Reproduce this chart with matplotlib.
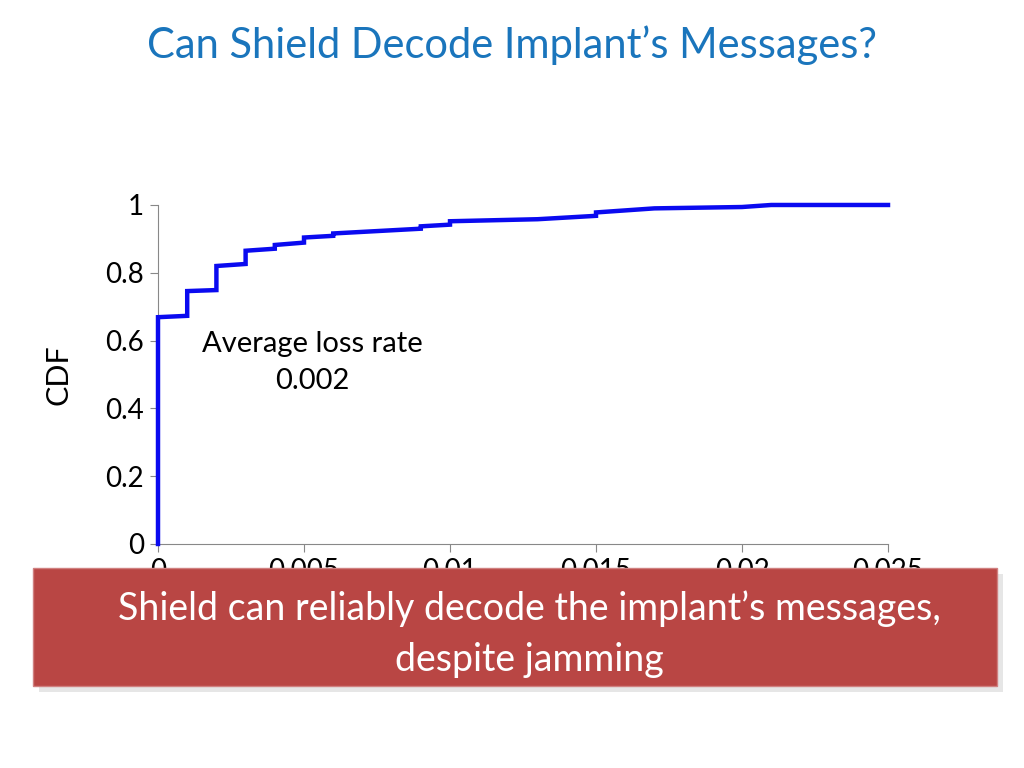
import matplotlib.pyplot as plt
from matplotlib.patches import Rectangle

plt.rcParams['font.family'] = ['Lato', 'DejaVu Sans']

# CDF of loss rate (duplicate x = vertical step)
loss = [0.0, 0.0, 0.001, 0.001, 0.002, 0.002, 0.003, 0.003, 0.004, 0.004,
        0.005, 0.005, 0.006, 0.006, 0.009, 0.009, 0.010, 0.010, 0.013,
        0.015, 0.015, 0.017, 0.020, 0.021, 0.025]
cdf = [0.0, 0.669, 0.673, 0.746, 0.749, 0.820, 0.826, 0.865, 0.871, 0.882,
       0.889, 0.904, 0.909, 0.916, 0.930, 0.937, 0.942, 0.952, 0.958,
       0.968, 0.978, 0.990, 0.994, 1.0, 1.0]

xticks = [0, 0.005, 0.01, 0.015, 0.02, 0.025]
xtick_labels = ["0", "0.005", "0.01", "0.015", "0.02", "0.025"]
yticks = [0, 0.2, 0.4, 0.6, 0.8, 1]
ytick_labels = ["0", "0.2", "0.4", "0.6", "0.8", "1"]

fig = plt.figure(figsize=(10.24, 7.68), dpi=100)
ax = fig.add_axes([0.1543, 0.2917, 0.7129, 0.4414])

ax.plot(loss, cdf, color="#0a0af0", linewidth=3.2, solid_joinstyle="miter",
        clip_on=False, zorder=3)
ax.set_xlim(0, 0.025)
ax.set_ylim(0, 1)
ax.set_xticks(xticks)
ax.set_xticklabels(xtick_labels, fontsize=20)
ax.set_yticks(yticks)
ax.set_yticklabels(ytick_labels, fontsize=20)
ax.tick_params(axis="both", direction="out", length=6, color="#888888", pad=4)
for side in ["top", "right"]:
    ax.spines[side].set_visible(False)
for side in ["left", "bottom"]:
    ax.spines[side].set_color("#888888")
ax.set_ylabel("CDF", fontsize=22, labelpad=24)

ax.text(0.0053, 0.536, "Average loss rate\n0.002", fontsize=21, ha="center",
        va="center", linespacing=1.5)

fig.text(0.5, 0.941, "Can Shield Decode Implant\u2019s Messages?",
         color="#1a75bc", fontsize=30, ha="center", va="center")

# red summary box with a soft shadow
shadow = Rectangle((0.0322 + 0.006, 0.1068 - 0.008), 0.9414, 0.1536,
                   transform=fig.transFigure, facecolor="#e6e6e6",
                   edgecolor="none", zorder=5)
box = Rectangle((0.0322, 0.1068), 0.9414, 0.1536,
                transform=fig.transFigure, facecolor="#b94644",
                edgecolor="#d08080", linewidth=1, zorder=6)
fig.patches.extend([shadow, box])
fig.text(0.517, 0.1745, "Shield can reliably decode the implant\u2019s messages,\ndespite jamming",
         color="white", fontsize=27, ha="center", va="center",
         linespacing=1.5, zorder=7)

fig.savefig("out.png", dpi=100)
